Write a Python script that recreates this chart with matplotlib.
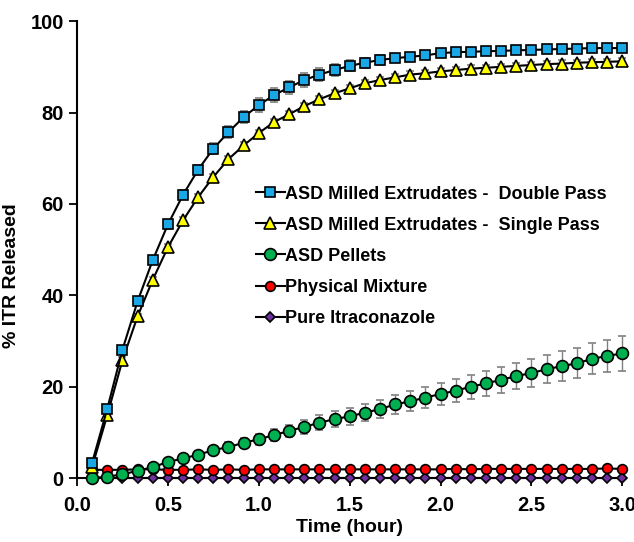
import numpy as np
import matplotlib
matplotlib.use('Agg')
import matplotlib.pyplot as plt

plt.rcParams['font.family'] = ['Liberation Sans', 'DejaVu Sans']
plt.rcParams['font.weight'] = 'bold'

# sampling every 5 min up to 3 h
time_h = np.arange(1, 37) * 5 / 60

double_pass = [3.4, 15.2, 28.1, 38.7, 47.7, 55.5, 62.0, 67.5, 72.1, 75.7, 79.0, 81.6,
               83.8, 85.5, 87.1, 88.3, 89.3, 90.2, 90.9, 91.5, 91.9, 92.2, 92.5, 93.0,
               93.2, 93.3, 93.4, 93.5, 93.6, 93.7, 93.8, 93.9, 94.0, 94.1, 94.1, 94.1]
double_sd = [0.3, 0.5, 0.6, 0.7, 0.8, 0.9, 1.0, 1.1, 1.2, 1.3, 1.4, 1.5,
             1.5, 1.5, 1.5, 1.4, 1.3, 1.2, 1.1, 1.0, 0.9, 0.9, 0.8, 0.8,
             0.8, 0.7, 0.7, 0.7, 0.7, 0.7, 0.7, 0.7, 0.7, 0.7, 0.7, 0.7]

single_pass = [2.5, 13.8, 25.8, 35.4, 43.4, 50.5, 56.4, 61.5, 65.9, 69.8, 72.8, 75.5,
               77.9, 79.6, 81.4, 82.9, 84.2, 85.3, 86.4, 87.1, 87.7, 88.3, 88.6, 89.0,
               89.3, 89.6, 89.8, 90.0, 90.2, 90.4, 90.6, 90.7, 90.9, 91.0, 91.1, 91.2]
single_sd = [0.3, 0.5, 0.6, 0.6, 0.7, 0.7, 0.7, 0.7, 0.7, 0.7, 0.7, 0.7,
             0.7, 0.7, 0.7, 0.7, 0.7, 0.7, 0.7, 0.7, 0.7, 0.7, 0.7, 0.7,
             0.7, 0.7, 0.7, 0.7, 0.7, 0.7, 0.7, 0.7, 0.7, 0.7, 0.7, 0.7]

pellets = [0.0, 0.3, 0.8, 1.6, 2.4, 3.5, 4.3, 5.1, 6.1, 6.8, 7.7, 8.5,
           9.4, 10.3, 11.2, 12.1, 12.9, 13.5, 14.3, 15.1, 16.1, 16.8, 17.6, 18.4,
           19.1, 20.0, 20.7, 21.5, 22.3, 23.0, 23.8, 24.5, 25.1, 26.1, 26.7, 27.3]
pellets_sd = [0.1, 0.2, 0.3, 0.4, 0.5, 0.6, 0.7, 0.8, 0.9, 1.0, 1.1, 1.2,
              1.3, 1.4, 1.5, 1.6, 1.7, 1.8, 1.9, 2.0, 2.1, 2.2, 2.3, 2.4,
              2.5, 2.6, 2.7, 2.8, 2.9, 3.0, 3.1, 3.2, 3.3, 3.4, 3.6, 3.8]

phys_mix = [1.8, 1.8, 1.8, 1.9, 1.9, 1.8, 1.8, 1.9, 1.8, 1.9, 1.8, 1.9,
            1.9, 1.9, 1.9, 1.9, 1.9, 1.9, 1.9, 1.9, 1.9, 1.9, 1.9, 1.9,
            2.0, 1.9, 2.0, 2.0, 2.0, 2.0, 2.0, 2.0, 2.0, 2.0, 2.1, 2.0]

pure_itz = [0.1] * 36

labels = ['ASD Milled Extrudates -  Double Pass',
          'ASD Milled Extrudates -  Single Pass',
          'ASD Pellets',
          'Physical Mixture',
          'Pure Itraconazole']

fig = plt.figure(figsize=(6.34, 5.42), dpi=100)
ax = fig.add_axes([0.1215, 0.118, 0.86, 0.843])

err_kw = dict(ecolor='#808080', elinewidth=1.0, capsize=3, capthick=1.0)
line_kw = dict(color='black', linewidth=1.5, markeredgecolor='black', markeredgewidth=1.2)

series = []
series.append(ax.errorbar(time_h, pure_itz, marker='D', markersize=5, markerfacecolor='#7030A0',
                          label=labels[4], zorder=3, **line_kw))
series.append(ax.errorbar(time_h, phys_mix, marker='o', markersize=7, markerfacecolor='#FF0000',
                          label=labels[3], zorder=4, **line_kw))
series.append(ax.errorbar(time_h, pellets, yerr=pellets_sd, marker='o', markersize=8.5,
                          markerfacecolor='#00B050', label=labels[2], zorder=5, **err_kw, **line_kw))
series.append(ax.errorbar(time_h, single_pass, yerr=single_sd, marker='^', markersize=9,
                          markerfacecolor='#FFFF00', label=labels[1], zorder=6, **err_kw, **line_kw))
series.append(ax.errorbar(time_h, double_pass, yerr=double_sd, marker='s', markersize=7.5,
                          markerfacecolor='#1AA7E6', label=labels[0], zorder=7, **err_kw, **line_kw))

for s in series:
    for art in s.get_children():
        art.set_clip_on(False)

ax.set_xlim(0, 3.0)
ax.set_ylim(0, 100)
ax.set_xticks(np.arange(0, 3.01, 0.5))
ax.set_xticklabels(['%.1f' % v for v in np.arange(0, 3.01, 0.5)])
ax.set_yticks(range(0, 101, 20))
ax.tick_params(labelsize=14.5, width=1.3, length=6, direction='out')
ax.tick_params(axis='x', pad=7)

for side in ['top', 'right']:
    ax.spines[side].set_visible(False)
for side in ['left', 'bottom']:
    ax.spines[side].set_linewidth(1.5)

ax.set_xlabel('Time (hour)', fontsize=14, fontweight='bold', labelpad=3)
ax.set_ylabel('% ITR Released', fontsize=14, fontweight='bold')
ax.yaxis.set_label_coords(-0.105, 0.444)

# legend shows line + marker only (no error bars)
order = [4, 3, 2, 1, 0]
leg = ax.legend([series[i][0] for i in order], [labels[4 - i] for i in order],
                loc='upper left', bbox_to_anchor=(0.328, 0.64), frameon=False,
                fontsize=13, handlelength=1.6, handletextpad=0.0, labelspacing=0.78,
                borderaxespad=0, borderpad=0)

for t in ax.get_xticklabels() + ax.get_yticklabels():
    t.set_fontweight('bold')

fig.savefig('out.png', dpi=100)
